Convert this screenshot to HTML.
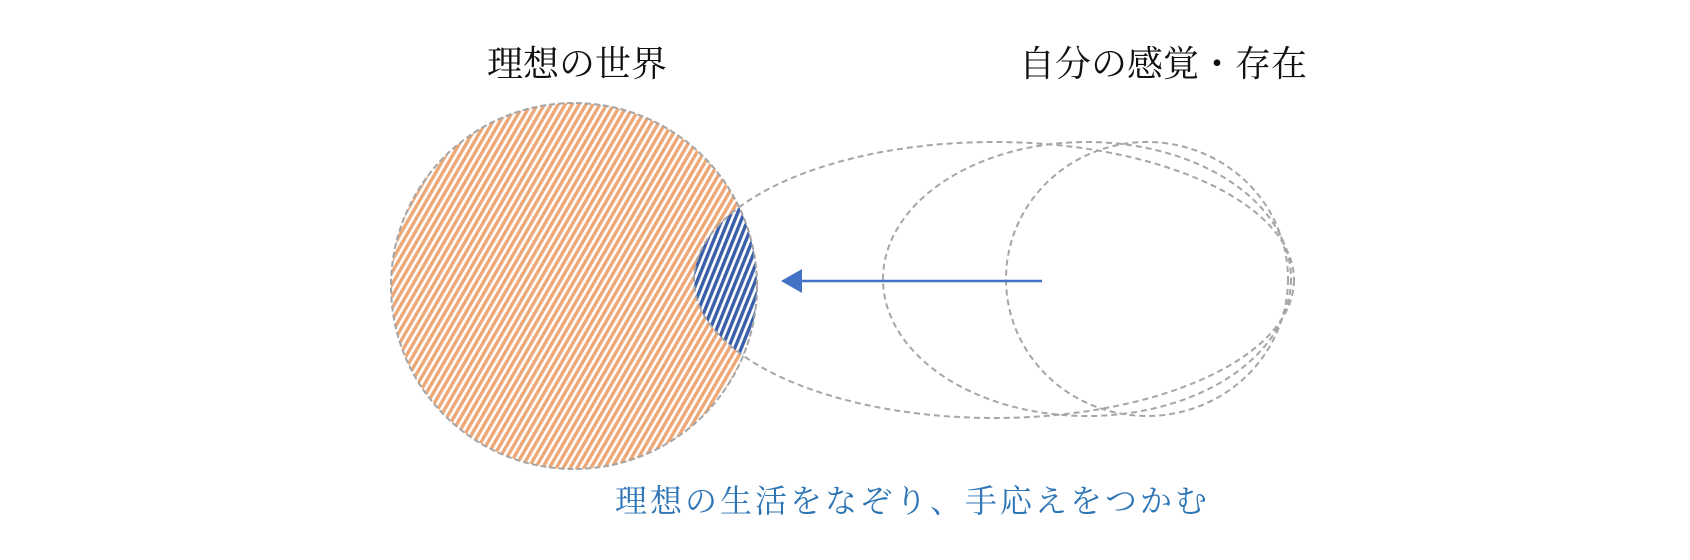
<!DOCTYPE html>
<html><head><meta charset="utf-8"><style>
html,body{margin:0;padding:0;background:#fff;}
body{width:1690px;height:555px;overflow:hidden;}
</style></head><body>
<svg width="1690" height="555" viewBox="0 0 1690 555" xmlns="http://www.w3.org/2000/svg">
<defs>
<pattern id="po" width="6" height="6" patternUnits="userSpaceOnUse" patternTransform="rotate(30)">
<rect width="6" height="6" fill="#fff"/><rect width="3.4" height="6" fill="#EDA878"/>
</pattern>
<pattern id="pb" width="6" height="6" patternUnits="userSpaceOnUse" patternTransform="rotate(22)">
<rect width="6" height="6" fill="#fff"/><rect width="3.4" height="6" fill="#3A5FA8"/>
</pattern>
<clipPath id="cc"><circle cx="574" cy="286" r="183"/></clipPath>
</defs>
<circle cx="574" cy="286" r="183" fill="url(#po)"/>
<ellipse cx="994" cy="280" rx="300" ry="138" fill="url(#pb)" clip-path="url(#cc)"/>
<circle cx="574" cy="286" r="183" fill="none" stroke="#A6A6A6" stroke-width="2" stroke-dasharray="6,3"/>
<g fill="none" stroke="#A6A6A6" stroke-width="2" stroke-dasharray="6,4">
<ellipse cx="994" cy="280" rx="300" ry="138"/>
<ellipse cx="1087" cy="279" rx="204" ry="137"/>
<ellipse cx="1147" cy="279" rx="141" ry="137"/>
</g>
<line x1="1042" y1="281" x2="795" y2="281" stroke="#4472C4" stroke-width="2.5"/>
<polygon points="781,281 802,269 802,293" fill="#4472C4"/>
<g font-family="'Liberation Serif','Noto Serif CJK SC',serif" font-size="36" fill="#111">
<text x="487" y="76">理想の世界</text>
<text x="1019" y="76">自分の感覚・存在</text>
</g>
<text x="615" y="512" font-family="'Liberation Serif','Noto Serif CJK SC',serif" font-size="32" letter-spacing="3" fill="#2E75B6">理想の生活をなぞり、手応えをつかむ</text>
</svg>
</body></html>
